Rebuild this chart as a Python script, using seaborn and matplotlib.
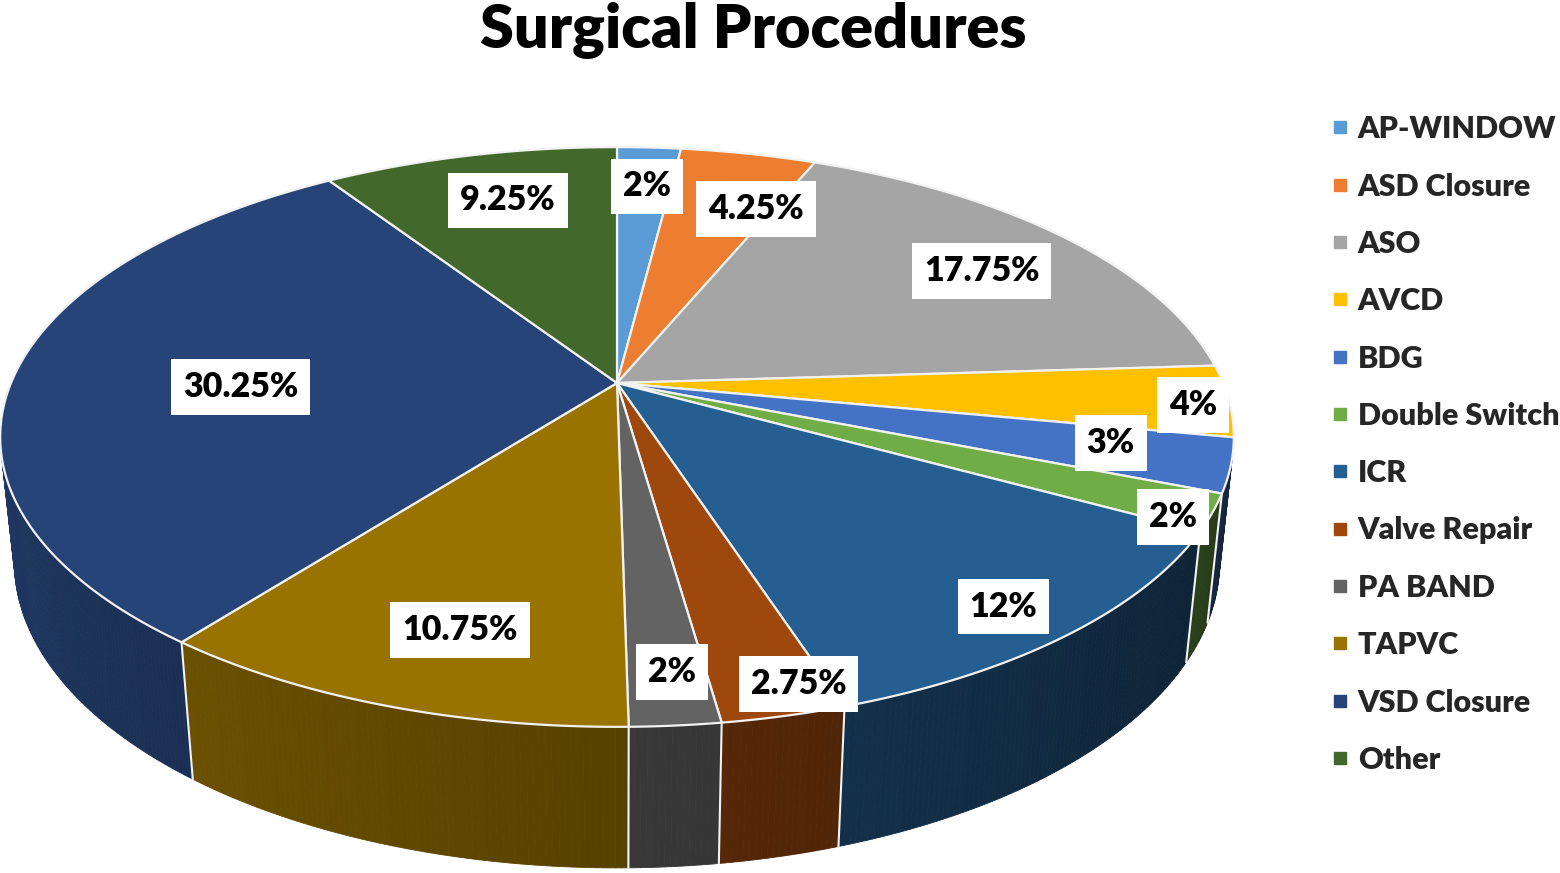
import numpy as np
import matplotlib
matplotlib.use("Agg")
import matplotlib.pyplot as plt
from matplotlib.colors import to_rgb
from matplotlib.lines import Line2D
from matplotlib.patches import Polygon
import seaborn as sns

# Slices, clockwise from 12 o'clock
procedures = ["AP-WINDOW", "ASD Closure", "ASO", "AVCD", "BDG", "Double Switch",
              "ICR", "Valve Repair", "PA BAND", "TAPVC", "VSD Closure", "Other"]
shares = [2, 4.25, 17.75, 4, 3, 2, 12, 2.75, 2, 10.75, 30.25, 9.25]
slice_colours = ["#5B9BD5", "#ED7D31", "#A5A5A5", "#FFC000", "#4472C4", "#70AD47",
                 "#255E91", "#9E480E", "#636363", "#997300", "#264478", "#43682B"]

# where each data label sits: fraction of radius, and nudge (deg) off the slice middle
label_radius = [0.81, 0.75, 0.78, 0.94, 0.81, 0.95, 0.89, 0.93, 0.87, 0.79, 0.62, 0.77]
label_nudge = [-0.4, -5.4, -2.0, -1.1, 1.5, -2.4, -1.0, 2.5, 0.5, 2.1, 3.5, -1.25]

sns.set_theme(style="white")
plt.rcParams["font.family"] = ["Lato", "DejaVu Sans"]

fig = plt.figure(figsize=(15.6, 8.73), dpi=100)
ax = fig.add_axes([0, 0, 1, 1])
ax.set_xlim(0, 1560)
ax.set_ylim(873, 0)
ax.axis("off")

# simple perspective camera looking down on a disc of radius 1
cx, cy, scale = 617, 383, 606
elev = np.radians(27.5)
dist = 4.764
thick = 0.234


def project(theta_deg, r=1.0, z=0.0):
    t = np.radians(theta_deg)
    u, v = r * np.cos(t), r * np.sin(t)
    w = 1 + (v * np.cos(elev) - z * np.sin(elev)) / dist
    return cx + scale * u / w, cy - scale * (v * np.sin(elev) + z * np.cos(elev)) / w


edges = 90 - 3.6 * np.concatenate([[0], np.cumsum(shares)])
starts, ends = edges[:-1], edges[1:]

# the part of the rim that faces the camera
edge_angle = np.degrees(np.arcsin(1 / (dist * np.cos(elev))))
vis_lo, vis_hi = -180 + edge_angle, -edge_angle


def shade(colour, theta):
    t = (theta - vis_lo) / (vis_hi - vis_lo)
    return tuple(np.array(to_rgb(colour)) * (0.82 - 0.50 * t))


# side wall
for s, e, col in zip(starts, ends, slice_colours):
    a, b = max(e, vis_lo), min(s, vis_hi)
    if b <= a:
        continue
    th = np.linspace(a, b, int(np.ceil((b - a) / 0.5)) + 1)
    for t0, t1 in zip(th[:-1], th[1:]):
        x0, y0 = project(t0)
        x1, y1 = project(t1)
        x2, y2 = project(t1, z=-thick)
        x3, y3 = project(t0, z=-thick)
        c = shade(col, (t0 + t1) / 2)
        ax.add_patch(Polygon([(x0, y0), (x1, y1), (x2, y2), (x3, y3)],
                             facecolor=c, edgecolor=c, lw=0.6, zorder=1))

for t in edges:
    if vis_lo < t < vis_hi:
        xt, yt = project(t)
        xb, yb = project(t, z=-thick)
        ax.plot([xt, xb], [yt, yb], color="#f2f2f2", lw=1.5, zorder=1.5)

# top face
for s, e, col in zip(starts, ends, slice_colours):
    th = np.linspace(s, e, max(2, int(abs(s - e) * 2)) + 1)
    x, y = project(th)
    pts = [(cx, cy)] + list(zip(x, y))
    ax.add_patch(Polygon(pts, facecolor=col, edgecolor="#f2f2f2", lw=1.6,
                         joinstyle="round", zorder=2))

# data labels
for share, s, e, r, nudge in zip(shares, starts, ends, label_radius, label_nudge):
    x, y = project((s + e) / 2 + nudge, r)
    ax.text(x, y, f"{share:g}%", ha="center", va="center", fontsize=24.5,
            fontweight="heavy", color="black", zorder=3,
            bbox=dict(boxstyle="square,pad=0.35", facecolor="white", edgecolor="none"))

ax.text(753, 47, "Surgical Procedures", ha="center", va="baseline",
        fontsize=44, fontweight="heavy", color="black")

handles = [Line2D([], [], linestyle="none", marker="s", markersize=8,
                  markerfacecolor=c, markeredgecolor=c) for c in slice_colours]
ax.legend(handles, procedures, loc="center left",
          bbox_to_anchor=(1331 / 1560, 1 - 444.5 / 873), bbox_transform=fig.transFigure,
          frameon=False, prop=dict(size=22, weight="heavy"), handlelength=0.6,
          handletextpad=0.28, labelspacing=0.96, borderpad=0, borderaxespad=0)

fig.savefig("out.png", dpi=100)
